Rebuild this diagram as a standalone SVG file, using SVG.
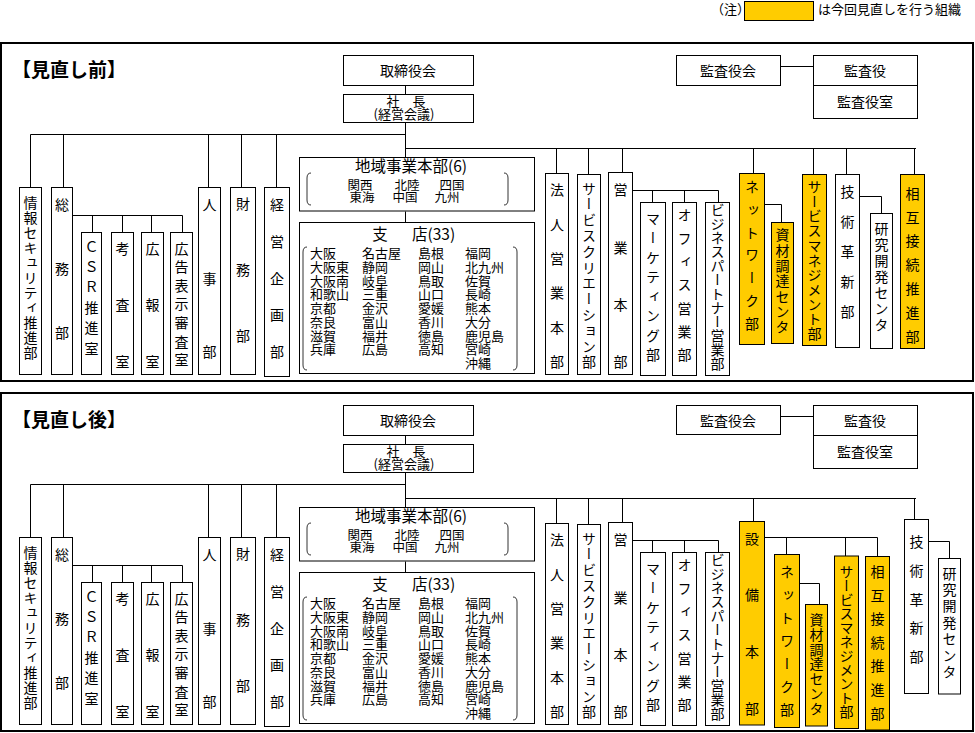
<svg xmlns="http://www.w3.org/2000/svg" width="975" height="733" viewBox="0 0 975 733">
<style>
text{font-family:"Noto Sans CJK JP","Noto Sans",sans-serif;fill:#000;}
.b{fill:#fff;stroke:#000;stroke-width:1;}
.y{fill:#ffcc00;stroke:#000;stroke-width:1;}
.frame{fill:#fff;stroke:#000;stroke-width:2;}
.c{fill:none;stroke:#000;stroke-width:1;}
.br{fill:none;stroke:#333;stroke-width:1;}
.h{font-size:14px;text-anchor:middle;}
.s{font-size:13px;text-anchor:middle;}
.r{font-size:12.5px;text-anchor:middle;}
.v{font-size:14px;writing-mode:vertical-rl;}
.t{font-size:19px;font-weight:bold;}
.l{font-size:13px;}
.big{font-size:15.5px;}
</style>
<rect width="975" height="733" fill="#fff"/>
<g id="legend">
<text x="711" y="14" style="font-size:13px">（注）</text>
<rect x="744.5" y="1.5" width="69" height="19" class="y"/>
<text x="818" y="14" style="font-size:13px">は今回見直しを行う組織</text>
</g>

<!-- ================= TOP PANEL ================= -->
<g id="panel-before">
<rect x="1" y="43" width="972" height="338" class="frame"/>
<text x="12" y="77" class="t">【見直し前】</text>
<g id="connectors-before">
<path class="c" d="M405.5,85.5V94.5M405.5,122.5V157.5M405.5,211.5V222.5"/>
<path class="c" d="M30.5,134.5H405.5M30.5,134.5V187.5M63.5,134.5V187.5M208.5,134.5V187.5M241.5,134.5V187.5M276.5,134.5V187.5"/>
<path class="c" d="M72.5,215.5H182.5M92.5,215.5V232.5M122.5,215.5V232.5M151.5,215.5V232.5M182.5,215.5V232.5"/>
<path class="c" d="M405.5,148.5H916M556.5,148.5V173.5M588.5,148.5V174.5M622.5,148.5V172.5M753.5,148.5V173.5M813.5,148.5V174.5M846.5,148.5V174.5M914.5,148.5V174.5"/>
<path class="c" d="M632.5,190.5H718.5M652.5,190.5V202.5M684.5,190.5V202.5M718.5,190.5V202.5"/>
<path class="c" d="M764.5,204.5H781.5V222.5"/>
<path class="c" d="M859.5,196.5H881.5V213.5"/>
<path class="c" d="M780.5,66.5H813.5"/>
</g>
<g id="b-torishimari"><rect x="343.5" y="55.5" width="130" height="30" class="b"/><text x="408" y="76" class="h">取締役会</text></g>
<g id="b-shacho"><rect x="343.5" y="94.5" width="130" height="28" class="b"/><text x="406" y="106" class="s">社　長</text><text x="404" y="119" class="s">(経営会議)</text></g>
<g id="b-kansayakukai"><rect x="676.5" y="55.5" width="104" height="30" class="b"/><text x="728" y="76" class="h">監査役会</text></g>
<g id="b-kansayaku"><rect x="813.5" y="55.5" width="104" height="63" class="b"/><path class="c" d="M813.5,85.5H917.5"/><text x="865" y="76" class="h">監査役</text><text x="865" y="107" class="h">監査役室</text></g>
<g id="b-chiiki">
<rect x="299.5" y="157.5" width="235" height="53.5" class="b"/>
<text x="411" y="172" class="big" text-anchor="middle">地域事業本部(6)</text>
<text class="r" y="189.5"><tspan x="360">関西</tspan><tspan x="407">北陸</tspan><tspan x="452">四国</tspan></text>
<text class="r" y="201.5"><tspan x="362">東海</tspan><tspan x="405">中国</tspan><tspan x="447">九州</tspan></text>
<path class="br" d="M311,173Q307,173 307,178V200Q307,205 311,205M504,173Q508,173 508,178V200Q508,205 504,205"/>
</g>
<g id="b-shiten">
<rect x="299.5" y="222.5" width="235" height="151" class="b"/>
<text x="380" y="240" class="big" text-anchor="middle">支</text><text x="412" y="240" class="big">店(33)</text>
<path class="br" d="M307,247Q303,247 303,252V365Q303,370 307,370M513,247Q517,247 517,252V365Q517,370 513,370"/>
<text class="l"><tspan x="310" y="258.3">大阪</tspan><tspan x="310" y="272">大阪東</tspan><tspan x="310" y="285.7">大阪南</tspan><tspan x="310" y="299.4">和歌山</tspan><tspan x="310" y="313.1">京都</tspan><tspan x="310" y="326.8">奈良</tspan><tspan x="310" y="340.5">滋賀</tspan><tspan x="310" y="354.2">兵庫</tspan></text>
<text class="l"><tspan x="362" y="258.3">名古屋</tspan><tspan x="362" y="272">静岡</tspan><tspan x="362" y="285.7">岐阜</tspan><tspan x="362" y="299.4">三重</tspan><tspan x="362" y="313.1">金沢</tspan><tspan x="362" y="326.8">富山</tspan><tspan x="362" y="340.5">福井</tspan><tspan x="362" y="354.2">広島</tspan></text>
<text class="l"><tspan x="418" y="258.3">島根</tspan><tspan x="418" y="272">岡山</tspan><tspan x="418" y="285.7">鳥取</tspan><tspan x="418" y="299.4">山口</tspan><tspan x="418" y="313.1">愛媛</tspan><tspan x="418" y="326.8">香川</tspan><tspan x="418" y="340.5">徳島</tspan><tspan x="418" y="354.2">高知</tspan></text>
<text class="l"><tspan x="465" y="258.3">福岡</tspan><tspan x="465" y="272">北九州</tspan><tspan x="465" y="285.7">佐賀</tspan><tspan x="465" y="299.4">長崎</tspan><tspan x="465" y="313.1">熊本</tspan><tspan x="465" y="326.8">大分</tspan><tspan x="465" y="340.5">鹿児島</tspan><tspan x="465" y="354.2">宮崎</tspan><tspan x="465" y="367.9">沖縄</tspan></text>
</g>
<g id="b-joho"><rect x="19.5" y="187.5" width="22" height="187" class="b"/><text x="30.5" y="196" class="v" letter-spacing="1">情報セキュリティ推進部</text></g>
<g id="b-somu"><rect x="51.5" y="187.5" width="21" height="187" class="b"/><text x="62" y="198 262 326" class="v">総務部</text></g>
<g id="b-csr"><rect x="81.5" y="232.5" width="20" height="142" class="b"/><text x="91.5" y="239.7 260 280.3 300.6 320.9 341.2" class="v">ＣＳＲ推進室</text></g>
<g id="b-kosa"><rect x="111.5" y="232.5" width="22" height="142" class="b"/><text x="122.5" y="241.3 298 354.7" class="v">考査室</text></g>
<g id="b-koho"><rect x="141.5" y="232.5" width="22" height="142" class="b"/><text x="152.5" y="241.3 298 354.7" class="v">広報室</text></g>
<g id="b-kokoku"><rect x="170.5" y="232.5" width="22" height="142" class="b"/><text x="181.5" y="241.3 259.9 278.5 297.1 315.7 334.3 352.9" class="v">広告表示審査室</text></g>
<g id="b-jinji"><rect x="198.5" y="187.5" width="22" height="187" class="b"/><text x="209.5" y="198 271.3 344.6" class="v">人事部</text></g>
<g id="b-zaimu"><rect x="230.5" y="187.5" width="25" height="187" class="b"/><text x="243" y="196.3 262.3 328.3" class="v">財務部</text></g>
<g id="b-keiei"><rect x="264.5" y="187.5" width="25" height="189" class="b"/><text x="277" y="198 234.7 271.4 308.1 344.8" class="v">経営企画部</text></g>
<g id="b-hojin"><rect x="545.5" y="173.5" width="23" height="201" class="b"/><text x="557" y="183 217.3 251.6 285.9 320.2 354.5" class="v">法人営業本部</text></g>
<g id="b-svcreate"><rect x="577.5" y="174.5" width="23" height="200" class="b"/><text x="589" y="181.3" class="v" letter-spacing="1.8">サービスクリエーション部</text></g>
<g id="b-eigyo"><rect x="608.5" y="172.5" width="24" height="202" class="b"/><text x="620.5" y="183 240.2 297.4 354.6" class="v">営業本部</text></g>
<g id="b-marketing"><rect x="640.5" y="202.5" width="25" height="173" class="b"/><text x="653" y="211.3" class="v" letter-spacing="5.5">マーケティング部</text></g>
<g id="b-office"><rect x="672.5" y="202.5" width="24" height="173" class="b"/><text x="684.5" y="208" class="v" letter-spacing="9.3">オフィス営業部</text></g>
<g id="b-bizpartner"><rect x="705.5" y="202.5" width="24" height="173" class="b"/><text x="717.5" y="203" class="v" letter-spacing="0">ビジネスパートナー営業部</text></g>
<g id="b-network"><rect x="739.5" y="173.5" width="25" height="171" class="y"/><text x="752" y="179.7" class="v" letter-spacing="8.8">ネットワーク部</text></g>
<g id="b-shizai"><rect x="771.5" y="222.5" width="22" height="121" class="y"/><text x="782.5" y="228" class="v" letter-spacing="1.3">資材調達センタ</text></g>
<g id="b-svmgmt"><rect x="802.5" y="174.5" width="24" height="171" class="y"/><text x="814.5" y="179.7" class="v" letter-spacing="0.7">サービスマネジメント部</text></g>
<g id="b-gijutsu"><rect x="835.5" y="174.5" width="24" height="173" class="b"/><text x="847.5" y="184.7 214.7 244.7 274.7 304.7" class="v">技術革新部</text></g>
<g id="b-kenkyu"><rect x="870.5" y="213.5" width="22" height="135" class="b"/><text x="881.5" y="221.3" class="v" letter-spacing="2.1">研究開発センタ</text></g>
<g id="b-sogo"><rect x="900.5" y="174.5" width="24" height="174" class="y"/><text x="912.5" y="186.3 210.2 234.1 258 281.9 305.8 329.7" class="v">相互接続推進部</text></g>
</g>

<!-- ================= BOTTOM PANEL ================= -->
<g id="panel-after">
<rect x="1" y="393" width="972" height="338" class="frame"/>
<text x="12" y="427" class="t">【見直し後】</text>
<g id="connectors-after">
<path class="c" d="M405.5,435.5V444.5M405.5,472.5V507.5M405.5,561.5V572.5"/>
<path class="c" d="M30.5,484.5H405.5M30.5,484.5V537.5M63.5,484.5V537.5M208.5,484.5V537.5M241.5,484.5V537.5M276.5,484.5V537.5"/>
<path class="c" d="M72.5,565.5H182.5M92.5,565.5V582.5M122.5,565.5V582.5M151.5,565.5V582.5M182.5,565.5V582.5"/>
<path class="c" d="M405.5,498.5H916M556.5,498.5V523.5M588.5,498.5V524.5M622.5,498.5V522.5M753.5,498.5V521.5M914.5,498.5V519.5"/>
<path class="c" d="M632.5,540.5H718.5M652.5,540.5V552.5M684.5,540.5V552.5M718.5,540.5V552.5"/>
<path class="c" d="M764.5,537.5H877.5M786.5,537.5V554.5M845.5,537.5V556M877.5,537.5V556.5"/>
<path class="c" d="M799.5,583.5H819.5V604.5"/>
<path class="c" d="M928.5,541.5H949.5V558.5"/>
<path class="c" d="M780.5,416.5H813.5"/>
</g>
<g id="a-torishimari"><rect x="343.5" y="405.5" width="130" height="30" class="b"/><text x="408" y="426" class="h">取締役会</text></g>
<g id="a-shacho"><rect x="343.5" y="444.5" width="130" height="28" class="b"/><text x="406" y="456" class="s">社　長</text><text x="404" y="469" class="s">(経営会議)</text></g>
<g id="a-kansayakukai"><rect x="676.5" y="405.5" width="104" height="29" class="b"/><text x="728" y="426" class="h">監査役会</text></g>
<g id="a-kansayaku"><rect x="813.5" y="405.5" width="104" height="63" class="b"/><path class="c" d="M813.5,435.5H917.5"/><text x="865" y="426" class="h">監査役</text><text x="865" y="457" class="h">監査役室</text></g>
<g id="a-chiiki">
<rect x="299.5" y="507.5" width="235" height="53.5" class="b"/>
<text x="411" y="522" class="big" text-anchor="middle">地域事業本部(6)</text>
<text class="r" y="539.5"><tspan x="360">関西</tspan><tspan x="407">北陸</tspan><tspan x="452">四国</tspan></text>
<text class="r" y="551.5"><tspan x="362">東海</tspan><tspan x="405">中国</tspan><tspan x="447">九州</tspan></text>
<path class="br" d="M311,523Q307,523 307,528V550Q307,555 311,555M504,523Q508,523 508,528V550Q508,555 504,555"/>
</g>
<g id="a-shiten">
<rect x="299.5" y="572.5" width="235" height="151" class="b"/>
<text x="380" y="590" class="big" text-anchor="middle">支</text><text x="412" y="590" class="big">店(33)</text>
<path class="br" d="M307,597Q303,597 303,602V715Q303,720 307,720M513,597Q517,597 517,602V715Q517,720 513,720"/>
<text class="l"><tspan x="310" y="608.3">大阪</tspan><tspan x="310" y="622">大阪東</tspan><tspan x="310" y="635.7">大阪南</tspan><tspan x="310" y="649.4">和歌山</tspan><tspan x="310" y="663.1">京都</tspan><tspan x="310" y="676.8">奈良</tspan><tspan x="310" y="690.5">滋賀</tspan><tspan x="310" y="704.2">兵庫</tspan></text>
<text class="l"><tspan x="362" y="608.3">名古屋</tspan><tspan x="362" y="622">静岡</tspan><tspan x="362" y="635.7">岐阜</tspan><tspan x="362" y="649.4">三重</tspan><tspan x="362" y="663.1">金沢</tspan><tspan x="362" y="676.8">富山</tspan><tspan x="362" y="690.5">福井</tspan><tspan x="362" y="704.2">広島</tspan></text>
<text class="l"><tspan x="418" y="608.3">島根</tspan><tspan x="418" y="622">岡山</tspan><tspan x="418" y="635.7">鳥取</tspan><tspan x="418" y="649.4">山口</tspan><tspan x="418" y="663.1">愛媛</tspan><tspan x="418" y="676.8">香川</tspan><tspan x="418" y="690.5">徳島</tspan><tspan x="418" y="704.2">高知</tspan></text>
<text class="l"><tspan x="465" y="608.3">福岡</tspan><tspan x="465" y="622">北九州</tspan><tspan x="465" y="635.7">佐賀</tspan><tspan x="465" y="649.4">長崎</tspan><tspan x="465" y="663.1">熊本</tspan><tspan x="465" y="676.8">大分</tspan><tspan x="465" y="690.5">鹿児島</tspan><tspan x="465" y="704.2">宮崎</tspan><tspan x="465" y="717.9">沖縄</tspan></text>
</g>
<g id="a-joho"><rect x="19.5" y="537.5" width="22" height="187" class="b"/><text x="30.5" y="546" class="v" letter-spacing="1">情報セキュリティ推進部</text></g>
<g id="a-somu"><rect x="51.5" y="537.5" width="21" height="187" class="b"/><text x="62" y="548 612 676" class="v">総務部</text></g>
<g id="a-csr"><rect x="81.5" y="582.5" width="20" height="142" class="b"/><text x="91.5" y="589.7 610 630.3 650.6 670.9 691.2" class="v">ＣＳＲ推進室</text></g>
<g id="a-kosa"><rect x="111.5" y="582.5" width="22" height="142" class="b"/><text x="122.5" y="591.3 648 704.7" class="v">考査室</text></g>
<g id="a-koho"><rect x="141.5" y="582.5" width="22" height="142" class="b"/><text x="152.5" y="591.3 648 704.7" class="v">広報室</text></g>
<g id="a-kokoku"><rect x="170.5" y="582.5" width="22" height="142" class="b"/><text x="181.5" y="591.3 609.9 628.5 647.1 665.7 684.3 702.9" class="v">広告表示審査室</text></g>
<g id="a-jinji"><rect x="198.5" y="537.5" width="22" height="187" class="b"/><text x="209.5" y="548 621.3 694.6" class="v">人事部</text></g>
<g id="a-zaimu"><rect x="230.5" y="537.5" width="25" height="187" class="b"/><text x="243" y="546.3 612.3 678.3" class="v">財務部</text></g>
<g id="a-keiei"><rect x="264.5" y="537.5" width="25" height="189" class="b"/><text x="277" y="548 584.7 621.4 658.1 694.8" class="v">経営企画部</text></g>
<g id="a-hojin"><rect x="545.5" y="523.5" width="23" height="201" class="b"/><text x="557" y="533 567.3 601.6 635.9 670.2 704.5" class="v">法人営業本部</text></g>
<g id="a-svcreate"><rect x="577.5" y="524.5" width="23" height="200" class="b"/><text x="589" y="531.3" class="v" letter-spacing="1.8">サービスクリエーション部</text></g>
<g id="a-eigyo"><rect x="608.5" y="522.5" width="24" height="202" class="b"/><text x="620.5" y="533 590.2 647.4 704.6" class="v">営業本部</text></g>
<g id="a-marketing"><rect x="640.5" y="552.5" width="25" height="173" class="b"/><text x="653" y="561.3" class="v" letter-spacing="5.5">マーケティング部</text></g>
<g id="a-office"><rect x="672.5" y="552.5" width="24" height="173" class="b"/><text x="684.5" y="558" class="v" letter-spacing="9.3">オフィス営業部</text></g>
<g id="a-bizpartner"><rect x="705.5" y="552.5" width="24" height="173" class="b"/><text x="717.5" y="553" class="v" letter-spacing="0">ビジネスパートナー営業部</text></g>
<g id="a-setsubi"><rect x="739.5" y="521.5" width="25" height="203.5" class="y"/><text x="752" y="531.3 588 644.7 701.4" class="v">設備本部</text></g>
<g id="a-network"><rect x="774.5" y="554.5" width="25" height="173" class="y"/><text x="787" y="564.7" class="v" letter-spacing="9">ネットワーク部</text></g>
<g id="a-shizai"><rect x="805.5" y="604.5" width="22" height="121.5" class="y"/><text x="816.5" y="613" class="v" letter-spacing="0.7">資材調達センタ</text></g>
<g id="a-svmgmt"><rect x="834.5" y="556" width="24" height="172.5" class="y"/><text x="846.5" y="564.7" class="v" letter-spacing="0">サービスマネジメント部</text></g>
<g id="a-sogo"><rect x="865.5" y="556.5" width="24" height="173.5" class="y"/><text x="877.5" y="564.7 588.3 611.9 635.5 659.1 682.7 706.3" class="v">相互接続推進部</text></g>
<g id="a-gijutsu"><rect x="904.5" y="519.5" width="24" height="174" class="b"/><text x="916.5" y="534.7 563.45 592.2 620.95 649.7" class="v">技術革新部</text></g>
<g id="a-kenkyu"><rect x="938.5" y="558.5" width="22" height="135.5" class="b"/><text x="949.5" y="566.3" class="v" letter-spacing="2.4">研究開発センタ</text></g>
</g>
</svg>
